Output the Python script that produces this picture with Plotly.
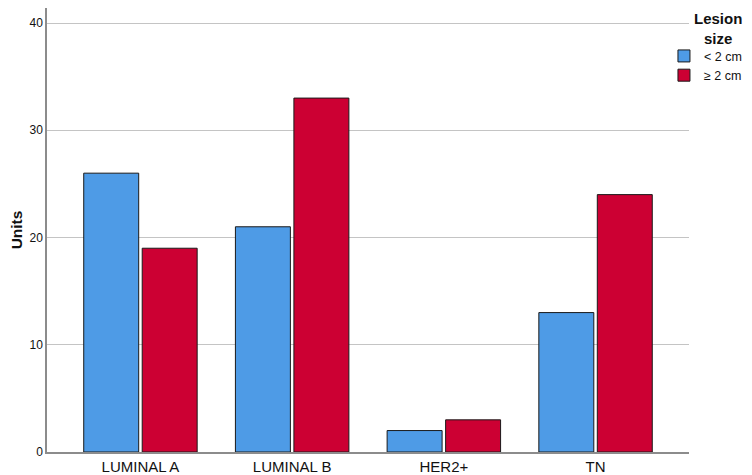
import plotly.graph_objects as go

categories = ["LUMINAL A", "LUMINAL B", "HER2+", "TN"]
small_lesions = [26, 21, 2, 13]
large_lesions = [19, 33, 3, 24]
series_names = ["< 2 cm", "≥ 2 cm"]
y_ticks = [0, 10, 20, 30, 40]

fig = go.Figure()
fig.add_trace(go.Bar(x=categories, y=small_lesions, name=series_names[0],
                     marker=dict(color="#4e9be6", line=dict(color="#1a1a1a", width=1))))
fig.add_trace(go.Bar(x=categories, y=large_lesions, name=series_names[1],
                     marker=dict(color="#cc0033", line=dict(color="#1a1a1a", width=1))))

fig.add_annotation(
    text="<b>Lesion<br>size</b>", xref="paper", yref="paper",
    x=1.0455, y=1.0, xanchor="center", yanchor="top", align="center",
    showarrow=False, font=dict(size=15, color="#111"),
)

# the page body adds an 8px offset; the figure is sized to fit the window
fig.update_layout(
    width=744, height=467,
    margin=dict(l=39, r=63, t=0, b=23, autoexpand=False),
    paper_bgcolor="white", plot_bgcolor="white",
    barmode="group", bargap=0.229, bargroupgap=0.06,
    font=dict(family="Liberation Sans, Arial, sans-serif", color="#111", size=12),
    showlegend=True,
    legend=dict(
        x=0.961, y=0.925, xanchor="left", yanchor="top",
        bgcolor="rgba(0,0,0,0)", font=dict(size=12.5),
        tracegroupgap=0, itemwidth=30,
    ),
    xaxis=dict(
        range=[-0.616, 3.616], showgrid=False, showline=True, automargin=False,
        linecolor="#8c8c8c", linewidth=1.5, ticks="",
        tickfont=dict(size=15, color="#111"),
    ),
    yaxis=dict(
        range=[0, 41.4], tickvals=y_ticks, showgrid=True, gridcolor="#c4c4c4",
        gridwidth=1, showline=True, linecolor="#8c8c8c", linewidth=1.5,
        zeroline=False, ticks="", tickfont=dict(size=12, color="#111"), automargin=False,
        title=dict(text="<b>Units</b>", font=dict(size=15.5, color="#111"), standoff=10),
    ),
)

fig.write_html("out.html")
